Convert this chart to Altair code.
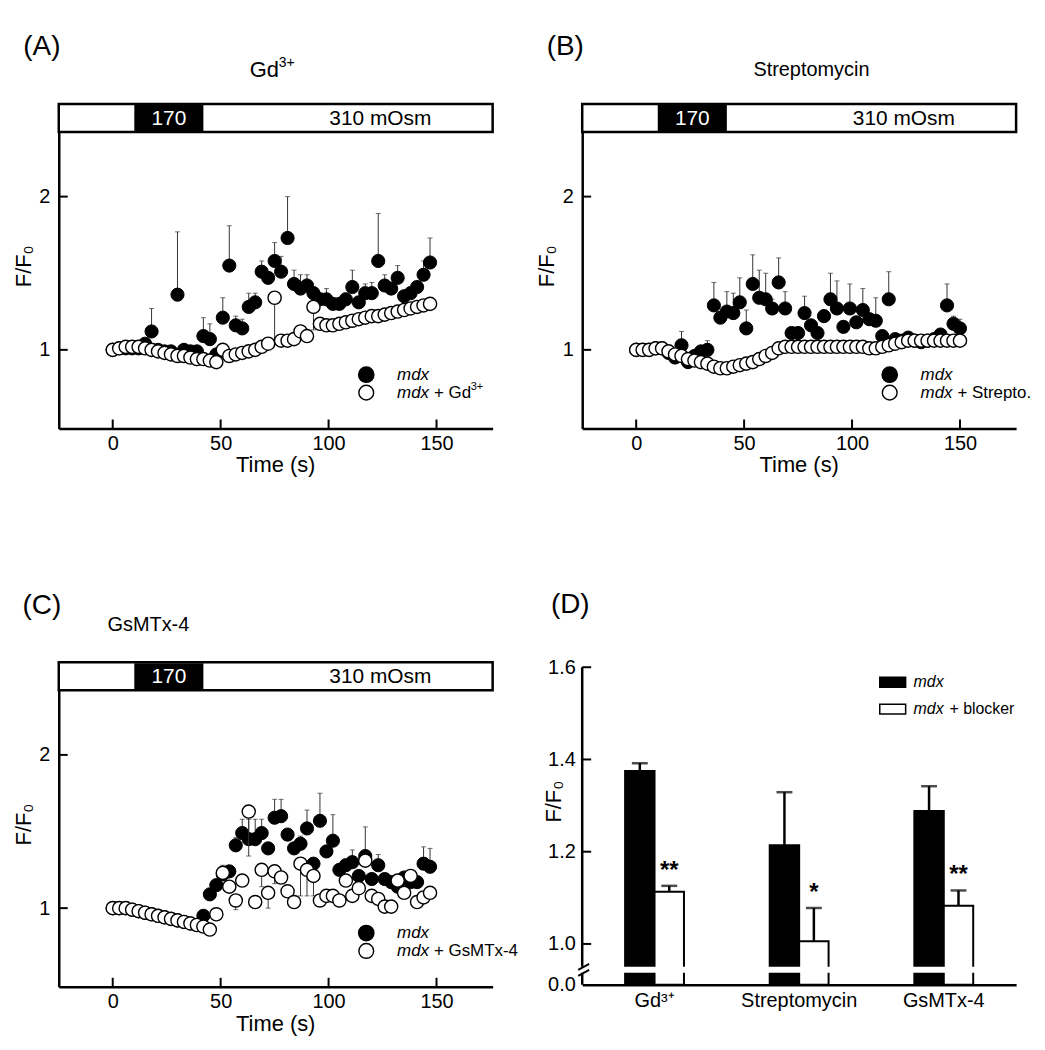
import altair as alt
import pandas as pd

FONT = "Liberation Sans"

# ---------------- time-course data (panels A-C) ----------------
T_AC = [0, 3, 6, 9, 12, 15, 18, 21, 24, 27, 30, 33, 36, 39, 42, 45, 48, 51, 54, 57,
        60, 63, 66, 69, 72, 75, 78, 81, 84, 87, 90, 93, 96, 99, 102, 105, 108, 111, 114, 117,
        120, 123, 126, 129, 132, 135, 138, 141, 144, 147]
T_B = [0, 3, 6, 9, 12, 15, 18, 21, 24, 27, 30, 33, 36, 39, 42, 45, 48, 51, 54, 57,
       60, 63, 66, 69, 72, 75, 78, 81, 84, 87, 90, 93, 96, 99, 102, 105, 108, 111, 114, 117,
       120, 123, 126, 129, 132, 135, 138, 141, 144, 147, 150]

A_MDX = [1.00, 1.01, 1.01, 1.01, 1.01, 1.04, 1.12, 1.00, 0.99, 0.99,
         1.36, 1.00, 0.99, 0.99, 1.09, 1.07, 0.97, 1.21, 1.55, 1.16,
         1.14, 1.28, 1.31, 1.51, 1.47, 1.58, 1.51, 1.73, 1.43, 1.40,
         1.42, 1.37, 1.33, 1.33, 1.30, 1.30, 1.33, 1.41, 1.31, 1.37,
         1.37, 1.58, 1.42, 1.40, 1.47, 1.35, 1.37, 1.41, 1.49, 1.57]
A_MDX_ERR = [0.01, 0.01, 0.01, 0.01, 0.01, 0.02, 0.15, 0.02, 0.02, 0.02,
             0.41, 0.02, 0.02, 0.02, 0.12, 0.10, 0.02, 0.13, 0.26, 0.06,
             0.06, 0.09, 0.06, 0.07, 0.03, 0.12, 0.10, 0.27, 0.09, 0.09,
             0.07, 0.04, 0.04, 0.07, 0.03, 0.02, 0.04, 0.11, 0.02, 0.06,
             0.07, 0.31, 0.07, 0.03, 0.08, 0.03, 0.04, 0.03, 0.09, 0.16]
A_BLK = [1.00, 1.01, 1.02, 1.02, 1.02, 1.01, 1.00, 0.99, 0.98, 0.97,
         0.96, 0.96, 0.95, 0.94, 0.94, 0.93, 0.92, 1.00, 0.96, 0.97,
         0.98, 0.99, 1.00, 1.02, 1.04, 1.34, 1.06, 1.06, 1.07, 1.12,
         1.09, 1.28, 1.17, 1.16, 1.16, 1.17, 1.18, 1.19, 1.20, 1.21,
         1.22, 1.22, 1.23, 1.24, 1.25, 1.26, 1.27, 1.28, 1.29, 1.30]
A_BLK_ERR = [0.02, 0.02, 0.02, 0.02, 0.02, 0.02, 0.02, 0.02, 0.02, 0.02,
             0.02, 0.02, 0.02, 0.02, 0.02, 0.02, 0.02, 0.02, 0.02, 0.02,
             0.02, 0.02, 0.02, 0.02, 0.02, 0.30, 0.02, 0.02, 0.02, 0.02,
             0.02, 0.15, 0.02, 0.02, 0.02, 0.02, 0.02, 0.02, 0.02, 0.02,
             0.02, 0.02, 0.02, 0.02, 0.02, 0.02, 0.02, 0.02, 0.02, 0.02]

B_MDX = [1.00, 1.00, 1.00, 1.01, 1.01, 0.98, 0.95, 1.03, 0.92, 0.96,
         0.99, 1.00, 1.29, 1.21, 1.25, 1.24, 1.31, 1.14, 1.43, 1.34,
         1.33, 1.27, 1.44, 1.27, 1.11, 1.11, 1.24, 1.16, 1.11, 1.22,
         1.33, 1.27, 1.15, 1.27, 1.18, 1.26, 1.20, 1.19, 1.09, 1.33,
         1.07, 1.06, 1.08, 1.06, 1.05, 1.06, 1.07, 1.10, 1.29, 1.17, 1.14]
B_MDX_ERR = [0.01, 0.01, 0.01, 0.01, 0.01, 0.01, 0.01, 0.09, 0.02, 0.02,
             0.02, 0.06, 0.15, 0.03, 0.13, 0.13, 0.16, 0.12, 0.19, 0.18,
             0.17, 0.06, 0.16, 0.11, 0.02, 0.02, 0.11, 0.02, 0.02, 0.04,
             0.17, 0.18, 0.03, 0.16, 0.02, 0.14, 0.02, 0.15, 0.02, 0.18,
             0.02, 0.02, 0.02, 0.02, 0.02, 0.02, 0.02, 0.02, 0.14, 0.05, 0.06]
B_BLK = [1.00, 1.00, 1.00, 1.01, 1.01, 0.99, 0.97, 0.96, 0.94, 0.93,
         0.92, 0.91, 0.89, 0.88, 0.88, 0.89, 0.90, 0.91, 0.92, 0.94,
         0.96, 0.98, 1.01, 1.02, 1.02, 1.02, 1.02, 1.02, 1.02, 1.02,
         1.02, 1.02, 1.02, 1.02, 1.02, 1.02, 1.01, 1.01, 1.02, 1.03,
         1.04, 1.05, 1.06, 1.06, 1.06, 1.06, 1.06, 1.06, 1.06, 1.06, 1.06]
B_BLK_ERR = [0.01] * 51

C_MDX = [1.00, 1.00, 1.00, 0.99, 0.98, 0.97, 0.96, 0.95, 0.94, 0.93,
         0.92, 0.91, 0.90, 0.89, 0.95, 1.09, 1.15, 1.22, 1.24, 1.41,
         1.49, 1.45, 1.45, 1.49, 1.39, 1.59, 1.60, 1.48, 1.39, 1.42,
         1.52, 1.29, 1.57, 1.37, 1.44, 1.25, 1.28, 1.30, 1.21, 1.34,
         1.19, 1.28, 1.19, 1.17, 1.14, 1.20, 1.17, 1.17, 1.29, 1.27]
C_MDX_ERR = [0.01, 0.01, 0.01, 0.01, 0.01, 0.01, 0.01, 0.01, 0.01, 0.01,
             0.01, 0.01, 0.01, 0.01, 0.02, 0.03, 0.03, 0.06, 0.03, 0.05,
             0.09, 0.13, 0.13, 0.09, 0.03, 0.12, 0.11, 0.03, 0.03, 0.05,
             0.12, 0.03, 0.18, 0.03, 0.17, 0.03, 0.04, 0.08, 0.03, 0.19,
             0.03, 0.07, 0.03, 0.03, 0.03, 0.03, 0.03, 0.03, 0.11, 0.12]
C_BLK = [1.00, 1.00, 1.00, 0.99, 0.98, 0.97, 0.96, 0.95, 0.94, 0.93,
         0.92, 0.91, 0.90, 0.89, 0.88, 0.86, 0.96, 1.23, 1.14, 1.05,
         1.18, 1.63, 1.04, 1.25, 1.10, 1.24, 1.20, 1.11, 1.04, 1.29,
         1.25, 1.21, 1.05, 1.08, 1.08, 1.05, 1.18, 1.08, 1.13, 1.31,
         1.08, 1.06, 1.01, 1.01, 1.18, 1.10, 1.21, 1.04, 1.07, 1.10]
C_BLK_ERR = [0.01, 0.01, 0.01, 0.01, 0.01, 0.01, 0.01, 0.01, 0.01, 0.01,
             0.01, 0.01, 0.01, 0.01, 0.01, 0.02, 0.02, 0.02, 0.02, 0.06,
             0.02, 0.29, 0.02, 0.11, 0.10, 0.08, 0.02, 0.02, 0.02, 0.21,
             0.17, 0.13, 0.02, 0.02, 0.02, 0.02, 0.03, 0.02, 0.02, 0.02,
             0.02, 0.02, 0.02, 0.02, 0.02, 0.02, 0.02, 0.02, 0.02, 0.02]

# header bar (perfusion protocol)
HDR_START = [10]
HDR_END = [42]
HDR_LOW = "170"
HDR_HIGH = "310 mOsm"
HDR_HIGH_POS = [124]

X_TICKS = [0, 50, 100, 150]
Y_TICKS = [1, 2]

# ---------------- summary data (panel D) ----------------
CATS = ["Gd³⁺", "Streptomycin", "GsMTx-4"]
D_MDX = [1.375, 1.214, 1.288]
D_MDX_ERR = [0.017, 0.115, 0.054]
D_BLK = [1.113, 1.006, 1.083]
D_BLK_ERR = [0.013, 0.072, 0.033]
D_STARS = ["**", "*", "**"]
D_YTICKS = [1.0, 1.2, 1.4, 1.6]
D_YMIN = 0.9115   # bottom of broken axis, labelled 0.0
D_YMAX = 1.6106

W, H = 436, 326
DH = 324
XDOM = [-25, 176]
YDOM = [0.487, 2.604]
HDR_H = 28
PT = 175

DUMMY = pd.DataFrame({"d": [0]})


def txt(text, x, y, size=20, **kw):
    return alt.Chart(DUMMY).mark_text(text=text, font=FONT, fontSize=size, color="black",
                                      align=kw.pop("align", "center"),
                                      baseline=kw.pop("baseline", "middle"), **kw).encode(
        x=alt.value(x), y=alt.value(y))


def ts_panel(t, mdx, mdx_err, blk, blk_err, letter, sub_parts, legend_parts):
    xs = alt.Scale(domain=XDOM, nice=False, zero=False)
    ys = alt.Scale(domain=YDOM, nice=False, zero=False)
    xaxis = alt.Axis(values=X_TICKS, title=None, ticks=False, tickSize=0, labelPadding=5,
                     labelFontSize=20, labelFont=FONT, labelColor="black", domainColor="black",
                     domainWidth=2.5, grid=False)
    yaxis = alt.Axis(values=Y_TICKS, format="d", title=None, ticks=False, tickSize=0,
                     labelPadding=9, labelFontSize=20, labelFont=FONT, labelColor="black",
                     domainColor="black", domainWidth=2.5, grid=False)
    X = alt.X("t:Q", scale=xs, axis=xaxis)
    Y = alt.Y("v:Q", scale=ys, axis=yaxis)

    d_mdx = pd.DataFrame({"t": t, "v": mdx, "top": [a + b for a, b in zip(mdx, mdx_err)]})
    d_mdx_cap = pd.DataFrame({"t": t, "v": [a + b for a, b in zip(mdx, mdx_err)]})
    d_blk = pd.DataFrame({"t": t, "v": blk, "bot": [a - b for a, b in zip(blk, blk_err)]})
    d_blk_cap = pd.DataFrame({"t": t, "v": [a - b for a, b in zip(blk, blk_err)]})

    hdr_box = alt.Chart(DUMMY).mark_rect(fill="white", stroke="black", strokeWidth=2.5).encode(
        x=alt.value(0), x2=alt.value(W), y=alt.value(0), y2=alt.value(HDR_H))
    hdr_blk = alt.Chart(pd.DataFrame({"t": HDR_START, "t2": HDR_END})).mark_rect(
        fill="black").encode(x=X, x2="t2:Q", y=alt.value(1), y2=alt.value(HDR_H - 1))
    hdr_t1 = alt.Chart(pd.DataFrame({"t": [(HDR_START[0] + HDR_END[0]) / 2]})).mark_text(
        text=HDR_LOW, font=FONT, fontSize=21, color="white").encode(x=X, y=alt.value(HDR_H / 2 + 1))
    hdr_t2 = alt.Chart(pd.DataFrame({"t": HDR_HIGH_POS})).mark_text(
        text=HDR_HIGH, font=FONT, fontSize=21, color="black").encode(x=X, y=alt.value(HDR_H / 2 + 1))

    xt = alt.Chart(pd.DataFrame({"t": X_TICKS})).mark_rule(color="black", strokeWidth=2).encode(
        x=X, y=alt.value(H), y2=alt.value(H - 9))
    yt = alt.Chart(pd.DataFrame({"v": Y_TICKS})).mark_rule(color="black", strokeWidth=2).encode(
        y=Y, x=alt.value(0), x2=alt.value(9))

    e1 = alt.Chart(d_mdx).mark_rule(color="#333", strokeWidth=1).encode(x=X, y=Y, y2="top:Q")
    c1 = alt.Chart(d_mdx_cap).mark_tick(orient="horizontal", size=5, thickness=1, color="#333").encode(x=X, y=Y)
    p1 = alt.Chart(d_mdx).mark_point(shape="circle", filled=True, fill="black", stroke="black",
                                     strokeWidth=1, size=PT, opacity=1).encode(x=X, y=Y)
    e2 = alt.Chart(d_blk).mark_rule(color="#333", strokeWidth=1).encode(x=X, y=Y, y2="bot:Q")
    c2 = alt.Chart(d_blk_cap).mark_tick(orient="horizontal", size=5, thickness=1, color="#333").encode(x=X, y=Y)
    p2 = alt.Chart(d_blk).mark_point(shape="circle", filled=True, fill="white", stroke="black",
                                     strokeWidth=1.4, size=PT, opacity=1).encode(x=X, y=Y)

    lg1 = alt.Chart(DUMMY).mark_point(shape="circle", filled=True, fill="black", stroke="black",
                                      size=220, opacity=1).encode(x=alt.value(309), y=alt.value(272))
    lg2 = alt.Chart(DUMMY).mark_point(shape="circle", filled=True, fill="white", stroke="black",
                                      strokeWidth=1.4, size=220, opacity=1).encode(x=alt.value(309), y=alt.value(290))
    layers = [hdr_box, hdr_blk, hdr_t1, hdr_t2, xt, yt, e1, c1, p1, e2, c2, p2, lg1, lg2,
              txt("mdx", 340, 272, 17, align="left", fontStyle="italic"),
              txt("mdx", 340, 290, 17, align="left", fontStyle="italic")]
    # legend second label: (text, x, y, size)
    for (s, x, y, sz) in legend_parts:
        layers.append(txt(s, x, y, sz, align="left"))
    for (s, x, y, sz) in sub_parts:
        layers.append(txt(s, x, y, sz, align="left"))
    layers += [txt(letter, -17, -57, 28),
               txt("F/F₀", -35, H / 2, 22, angle=270),
               txt("Time (s)", W / 2, H + 37, 22)]
    return alt.layer(*layers).properties(width=W, height=H)


pA = ts_panel(T_AC, A_MDX, A_MDX_ERR, A_BLK, A_BLK_ERR, "(A)",
              [("Gd", 192, -34, 22), ("3+", 221, -41, 14)],
              [("+ Gd", 377, 290, 17), ("3+", 414, 284, 11)])
pB = ts_panel(T_B, B_MDX, B_MDX_ERR, B_BLK, B_BLK_ERR, "(B)",
              [("Streptomycin", 172, -34, 20)],
              [("+ Strepto.", 377, 290, 17)])
pC = ts_panel(T_AC, C_MDX, C_MDX_ERR, C_BLK, C_BLK_ERR, "(C)",
              [("GsMTx-4", 49, -37, 20)],
              [("+ GsMTx-4", 377, 290, 17)])

# ---------------- panel D ----------------
GRP = ["mdx", "blk"]
d_rows = []
for i, c in enumerate(CATS):
    d_rows.append({"cat": c, "grp": "mdx", "v": D_MDX[i], "top": D_MDX[i] + D_MDX_ERR[i], "base": D_YMIN})
    d_rows.append({"cat": c, "grp": "blk", "v": D_BLK[i], "top": D_BLK[i] + D_BLK_ERR[i], "base": D_YMIN})
dfD = pd.DataFrame(d_rows)
dfD_cap = pd.DataFrame({"cat": dfD["cat"], "grp": dfD["grp"], "v": dfD["top"]})
dfD_star = pd.DataFrame({"cat": CATS, "grp": ["blk"] * 3,
                         "v": [D_BLK[i] + D_BLK_ERR[i] for i in range(3)], "star": D_STARS})

DX = alt.X("cat:N", sort=CATS, scale=alt.Scale(domain=CATS, paddingInner=0.593, paddingOuter=0.2966),
           axis=alt.Axis(title=None, ticks=False, tickSize=0, labelAngle=0, labelPadding=6, labelFontSize=20,
                         labelFont=FONT, labelColor="black", domainColor="black", domainWidth=2.5, grid=False))
DXO = alt.XOffset("grp:N", scale=alt.Scale(domain=GRP, paddingInner=0, paddingOuter=0))
DYS = alt.Scale(domain=[D_YMIN, D_YMAX], nice=False, zero=False, clamp=True)
DY = alt.Y("v:Q", scale=DYS,
           axis=alt.Axis(values=[D_YMIN] + D_YTICKS, title=None, domain=False, ticks=False, tickSize=0,
                         labelExpr="datum.value < 0.95 ? '0.0' : format(datum.value, '.1f')",
                         labelPadding=7, labelFontSize=20, labelFont=FONT, labelColor="black", grid=False))

bars = alt.Chart(dfD).mark_bar(stroke="black", strokeWidth=2).encode(
    x=DX, xOffset=DXO, y=DY, y2="base:Q",
    fill=alt.Fill("grp:N", scale=alt.Scale(domain=GRP, range=["black", "white"]), legend=None))
derr = alt.Chart(dfD).mark_rule(color="black", strokeWidth=2.5).encode(x=DX, xOffset=DXO, y=DY, y2="top:Q")
dcap = alt.Chart(dfD_cap).mark_tick(orient="horizontal", size=16, thickness=2.5, color="black").encode(
    x=DX, xOffset=DXO, y=DY)
dstar = alt.Chart(dfD_star).mark_text(font=FONT, fontSize=24, fontWeight="bold", baseline="alphabetic",
                                      dy=-8, color="black").encode(x=DX, xOffset=DXO, y=DY, text="star:N")
ddom = alt.Chart(pd.DataFrame({"v": [D_YTICKS[-1]], "v2": [D_YMIN]})).mark_rule(
    color="black", strokeWidth=2.5).encode(x=alt.value(0), y=DY, y2="v2:Q")
dtk = alt.Chart(pd.DataFrame({"v": D_YTICKS})).mark_rule(color="black", strokeWidth=2).encode(
    y=DY, x=alt.value(0), x2=alt.value(9))
dbrk = alt.Chart(DUMMY).mark_rect(fill="white").encode(
    x=alt.value(-8), x2=alt.value(W), y=alt.value(306), y2=alt.value(312))
sl1 = alt.Chart(DUMMY).mark_rule(color="black", strokeWidth=2).encode(
    x=alt.value(-4), y=alt.value(309), x2=alt.value(7), y2=alt.value(303))
sl2 = alt.Chart(DUMMY).mark_rule(color="black", strokeWidth=2).encode(
    x=alt.value(-4), y=alt.value(315), x2=alt.value(7), y2=alt.value(309))
lr1 = alt.Chart(DUMMY).mark_rect(fill="black", stroke="black", strokeWidth=1.5).encode(
    x=alt.value(299), x2=alt.value(325), y=alt.value(15), y2=alt.value(25))
lr2 = alt.Chart(DUMMY).mark_rect(fill="white", stroke="black", strokeWidth=1.5).encode(
    x=alt.value(299), x2=alt.value(325), y=alt.value(42), y2=alt.value(52))
dl1 = txt("mdx", 333, 20, 16, align="left", fontStyle="italic")
dl2 = txt("mdx", 333, 47, 16, align="left", fontStyle="italic")
dl3 = txt("+ blocker", 369, 47, 16, align="left")
d_letter = txt("(D)", -12, -58, 28)
d_ytitle = txt("F/F₀", -28, 140, 22, angle=270)

pD = alt.layer(bars, derr, dcap, ddom, dtk, dbrk, sl1, sl2, dstar, lr1, lr2, dl1, dl2, dl3,
               d_letter, d_ytitle).properties(width=W, height=DH)

chart = alt.concat(pA, pB, pC, pD, columns=2, spacing={"row": 235, "column": 90},
                   bounds="flush").properties(
    padding={"left": 5, "top": 23, "right": 5, "bottom": 5}
).configure_view(stroke=None)

chart.save("out.html", embed_options={"renderer": "svg", "actions": False})
